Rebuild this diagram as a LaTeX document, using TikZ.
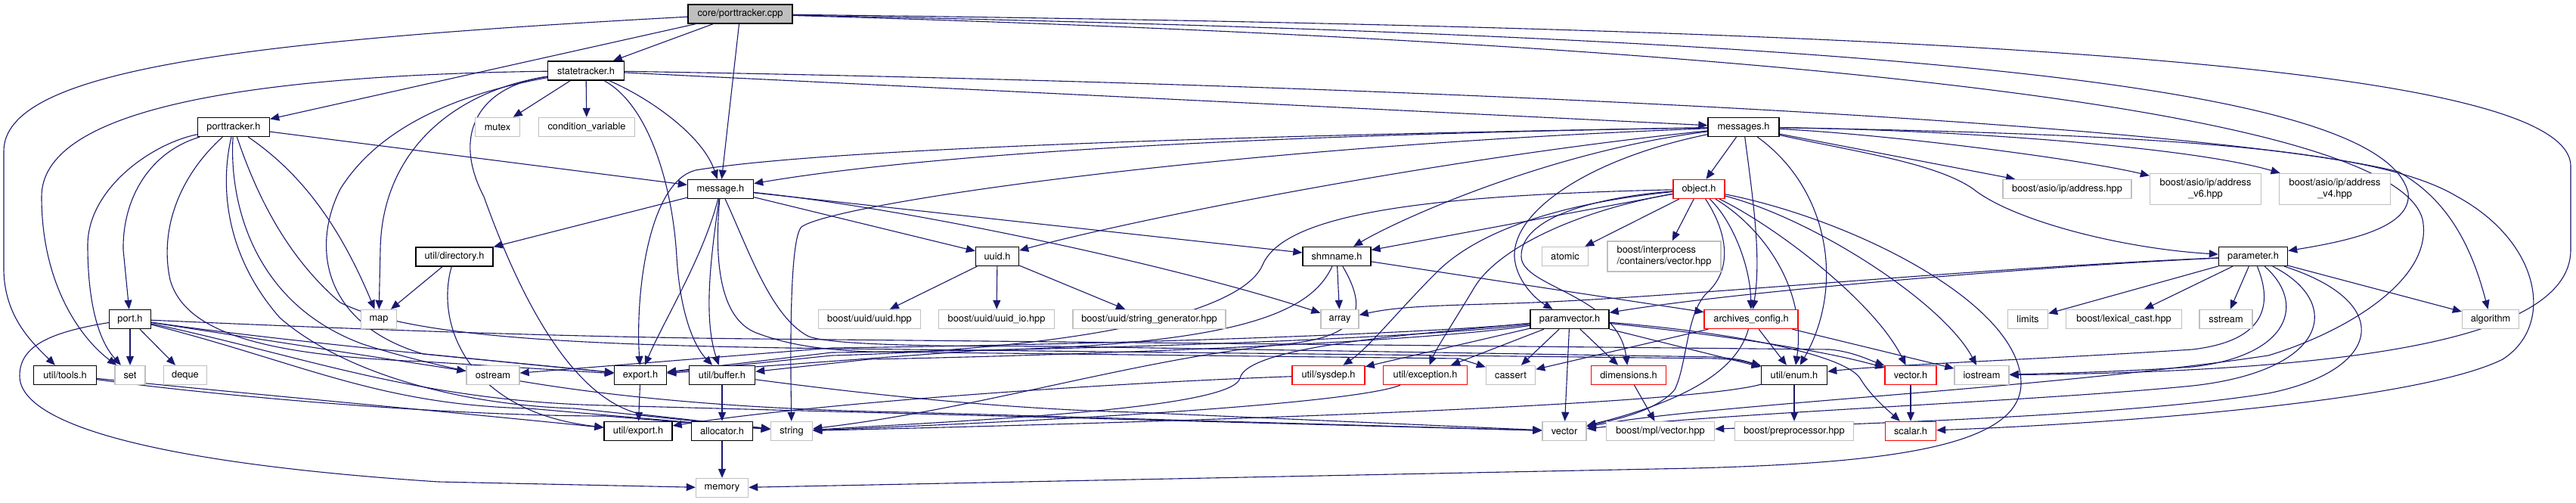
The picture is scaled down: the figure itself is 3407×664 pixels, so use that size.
\documentclass[tikz,border=0pt]{standalone}
\usepackage{fontspec}
\setmainfont{TeX Gyre Heros}
\usetikzlibrary{arrows.meta,backgrounds}
\definecolor{edgec}{HTML}{191970}
\definecolor{gry}{HTML}{BFBFBF}
\definecolor{redc}{HTML}{FF0000}
\newcommand{\nfs}{\fontsize{12.8pt}{15pt}\selectfont}
\begin{document}
\begin{tikzpicture}[x=1pt,y=-1pt,
  nbox/.style={draw=black,line width=1.4pt,fill=white,minimum height=25pt,inner sep=0pt,font=\nfs,text=black},
  sbox/.style={nbox,draw=gry},
  rbox/.style={nbox,draw=redc},
  ed/.style={draw=edgec,line width=1.1pt,-{Triangle[length=12pt,width=10pt]}}]
\useasboundingbox (0,0) rectangle (3407,664);
% row 1-3
\node[nbox,fill=gry,minimum width=138pt] (core) at (979,18.5) {core/porttracker.cpp};
\node[nbox,minimum width=101pt] (st) at (775,93.5) {statetracker.h};
\node[nbox,minimum width=95pt] (pt) at (309,168) {porttracker.h};
\node[sbox,minimum width=59pt] (mutex) at (658,168) {mutex};
\node[sbox,minimum width=127pt] (cv) at (776,168) {condition\_variable};
\node[nbox,minimum width=94pt] (msgs) at (2306,168) {messages.h};
% row 4
\node[nbox,minimum width=87pt] (msg) at (953,250) {message.h};
\node[rbox,minimum width=68pt] (obj) at (2247,250) {object.h};
\node[sbox,minimum width=170pt] (addr) at (2734,250) {boost/asio/ip/address.hpp};
\node[sbox,minimum width=147pt,minimum height=41pt,align=center] (av6) at (2917,250) {boost/asio/ip/address\\\_v6.hpp};
\node[sbox,minimum width=147pt,minimum height=41pt,align=center] (av4) at (3088,250) {boost/asio/ip/address\\\_v4.hpp};
% row 5
\node[nbox,minimum width=102pt] (dir) at (601,339.5) {util/directory.h};
\node[nbox,minimum width=57pt] (uuid) at (1319,339) {uuid.h};
\node[nbox,minimum width=90pt] (shm) at (1768,339) {shmname.h};
\node[sbox,minimum width=61pt] (atomic) at (2070,339) {atomic};
\node[sbox,minimum width=150pt,minimum height=40pt,align=left] (ipc) at (2201,339) {boost/interprocess\\/containers/vector.hpp};
\node[nbox,minimum width=91pt] (param) at (2980,339) {parameter.h};
% row 6
\node[nbox,minimum width=55pt] (port) at (172,422) {port.h};
\node[sbox,minimum width=47pt] (map) at (501,422) {map};
\node[sbox,minimum width=135pt] (uhpp) at (1150,422) {boost/uuid/uuid.hpp};
\node[sbox,minimum width=153pt] (uio) at (1318,422) {boost/uuid/uuid\_io.hpp};
\node[sbox,minimum width=202pt] (usg) at (1520,422) {boost/uuid/string\_generator.hpp};
\node[sbox,minimum width=50pt] (array) at (1772,422) {array};
\node[nbox,minimum width=104pt] (pv) at (2076,422) {paramvector.h};
\node[rbox,minimum width=124pt] (arch) at (2316,422) {archives\_config.h};
\node[sbox,minimum width=53pt] (limits) at (2682,422) {limits};
\node[sbox,minimum width=153pt] (lex) at (2809,422) {boost/lexical\_cast.hpp};
\node[sbox,minimum width=70pt] (sstream) at (2944,422) {sstream};
\node[sbox,minimum width=75pt] (algo) at (3294,422) {algorithm};
% row 7
\node[nbox,minimum width=83pt] (tools) at (86,496) {util/tools.h};
\node[sbox,minimum width=40pt] (set) at (172,496) {set};
\node[sbox,minimum width=57pt] (deque) at (245,496) {deque};
\node[sbox,minimum width=70pt] (ostream) at (652,496) {ostream};
\node[nbox,minimum width=69pt] (export) at (847,496) {export.h};
\node[nbox,minimum width=87pt] (buffer) at (955,496) {util/buffer.h};
\node[rbox,minimum width=96pt] (sysdep) at (1757,496) {util/sysdep.h};
\node[rbox,minimum width=111pt] (exc) at (1885,496) {util/exception.h};
\node[sbox,minimum width=65pt] (cassert) at (1998,496) {cassert};
\node[rbox,minimum width=99pt] (dim) at (2154,496) {dimensions.h};
\node[nbox,minimum width=87pt] (enum) at (2373,496) {util/enum.h};
\node[rbox,minimum width=68pt] (vech) at (2527,496) {vector.h};
\node[sbox,minimum width=72pt] (iostream) at (2621,496) {iostream};
% row 8
\node[nbox,minimum width=90pt] (uexport) at (844,570) {util/export.h};
\node[nbox,minimum width=81pt] (alloc) at (955,570) {allocator.h};
\node[sbox,minimum width=55pt] (string) at (1047,570) {string};
\node[sbox,minimum width=58pt] (vector) at (2069,570) {vector};
\node[sbox,minimum width=143pt] (mpl) at (2196,570) {boost/mpl/vector.hpp};
\node[sbox,minimum width=157pt] (preproc) at (2373,570) {boost/preprocessor.hpp};
\node[rbox,minimum width=67pt] (scalar) at (2527,570) {scalar.h};
% row 9
\node[sbox,minimum width=69pt] (memory) at (955,645) {memory};

\begin{pgfonlayer}{background}
\fill[white] (0,0) rectangle (3407,664);
% core
\draw[ed] (core) -- (st);
\draw[ed] (core) -- (pt);
\draw[ed] (core) -- (msg);
\draw[ed] (core) .. controls (300,55) and (5,95) .. (5,200) -- (5,355) .. controls (5,420) and (45,455) .. (tools);
\draw[ed] (core) .. controls (2600,38) and (3400,85) .. (3400,220) -- (3400,330) .. controls (3400,430) and (3200,490) .. (iostream);
\draw[ed] (core) .. controls (2500,50) and (3150,110) .. (3185,255) .. controls (3190,300) and (3110,318) .. (param);
\draw[ed] (core) .. controls (2500,62) and (3170,160) .. (3204,290) .. controls (3220,370) and (3100,440) .. (3000,470) .. controls (2700,515) and (2250,535) .. (vector);
% statetracker
\draw[ed] (st) -- (mutex);
\draw[ed] (st) -- (cv);
\draw[ed] (st) .. controls (860,130) and (930,180) .. (msg);
\draw[ed] (st) -- (msgs);
\draw[ed] (st) .. controls (300,100) and (55,150) .. (55,260) .. controls (55,380) and (110,450) .. (set);
\draw[ed] (st) .. controls (600,120) and (505,200) .. (503,330) -- (map);
\draw[ed] (st) .. controls (630,115) and (598,180) .. (640,260) .. controls (690,400) and (760,530) .. (850,548) -- (string);
\draw[ed] (st) .. controls (860,140) and (890,250) .. (895,340) .. controls (900,420) and (920,460) .. (buffer);
\draw[ed] (st) .. controls (600,125) and (500,170) .. (450,250) .. controls (410,330) and (430,430) .. (560,468) -- (export);
\draw[ed] (st) .. controls (1800,110) and (2900,160) .. (3172,227) .. controls (3240,265) and (3270,330) .. (algo);
% porttracker
\draw[ed] (pt) .. controls (200,190) and (116,250) .. (116,324) .. controls (116,400) and (130,450) .. (set);
\draw[ed] (pt) .. controls (200,200) and (162,260) .. (163,330) -- (port);
\draw[ed] (pt) .. controls (240,230) and (210,300) .. (225,370) .. controls (245,440) and (350,470) .. (560,478) -- (export);
\draw[ed] (pt) .. controls (290,250) and (300,340) .. (370,420) .. controls (450,490) and (600,535) .. (760,540) -- (string);
\draw[ed] (pt) .. controls (303,260) and (330,400) .. (480,455) .. controls (650,510) and (900,540) .. (1200,545) -- (vector);
\draw[ed] (pt) .. controls (340,260) and (380,340) .. (450,400) .. controls (550,450) and (800,458) .. (1200,462) -- (2270,474) .. controls (2300,476) .. (enum);
\draw[ed] (pt) .. controls (400,230) and (450,300) .. (map);
\draw[ed] (pt) -- (msg);
% port
\draw[ed] (port) -- (set);
\draw[ed] (port) -- (deque);
\draw[ed] (port) .. controls (60,440) and (26,460) .. (26,497) .. controls (26,560) and (200,612) .. (580,637) -- (memory);
\draw[ed] (port) -- (ostream);
\draw[ed] (port) .. controls (350,448) and (600,472) .. (export);
\draw[ed] (port) .. controls (400,480) and (500,535) .. (700,540) -- (string);
\draw[ed] (port) .. controls (400,470) and (550,530) .. (800,536) -- (vector);
\draw[ed] (port) .. controls (400,432) and (700,445) .. (1000,448) -- (2420,462) .. controls (2450,465) and (2470,475) .. (vech);
% util/tools.h, util/directory.h
\draw[ed] (tools) .. controls (300,518) and (600,545) .. (uexport);
\draw[ed] (tools) .. controls (300,525) and (600,550) .. (800,550) -- (string);
\draw[ed] (dir) -- (map);
\draw[ed] (dir) .. controls (575,430) and (620,545) .. (uexport);
% message.h
\draw[ed] (msg) -- (dir);
\draw[ed] (msg) .. controls (930,340) and (880,420) .. (export);
\draw[ed] (msg) .. controls (940,340) and (930,420) .. (buffer);
\draw[ed] (msg) .. controls (945,340) and (950,420) .. (1000,440) .. controls (1040,455) and (1080,462) .. (1150,465) -- (1930,474) -- (cassert);
\draw[ed] (msg) .. controls (990,330) and (1020,420) .. (1070,445) .. controls (1100,455) and (1200,458) .. (1400,458) -- (2270,472) .. controls (2300,475) .. (enum);
\draw[ed] (msg) -- (shm);
\draw[ed] (msg) -- (uuid);
\draw[ed] (msg) .. controls (1200,275) and (1550,350) .. (array);
% messages.h
\draw[ed] (msgs) .. controls (1700,178) and (1250,200) .. (msg);
\draw[ed] (msgs) .. controls (1700,178) and (1100,195) .. (920,225) .. controls (860,240) and (840,380) .. (export);
\draw[ed] (msgs) .. controls (1600,195) and (1100,270) .. (1060,300) .. controls (1045,315) and (1045,450) .. (string);
\draw[ed] (msgs) .. controls (1900,210) and (1500,290) .. (uuid);
\draw[ed] (msgs) .. controls (2050,200) and (1850,290) .. (shm);
\draw[ed] (msgs) -- (obj);
\draw[ed] (msgs) -- (addr);
\draw[ed] (msgs) .. controls (2500,178) and (2750,210) .. (av6);
\draw[ed] (msgs) .. controls (2600,172) and (2900,195) .. (av4);
\draw[ed] (msgs) .. controls (2450,200) and (2560,215) .. (2610,250) .. controls (2660,290) and (2800,328) .. (param);
\draw[ed] (msgs) .. controls (2318,260) and (2330,340) .. (arch);
\draw[ed] (msgs) .. controls (2420,250) and (2440,380) .. (enum);
\draw[ed] (msgs) .. controls (2100,210) and (2000,280) .. (2003,340) .. controls (2005,370) and (2030,395) .. (pv);
\draw[ed] (msgs) .. controls (2900,178) and (3150,200) .. (3250,260) .. controls (3360,320) and (3380,430) .. (3310,475) .. controls (3200,530) and (2800,560) .. (scalar);
% object.h
\draw[ed] (obj) -- (shm);
\draw[ed] (obj) -- (atomic);
\draw[ed] (obj) -- (ipc);
\draw[ed] (obj) .. controls (1900,258) and (1700,280) .. (1670,350) .. controls (1640,420) and (1400,462) .. (1100,470) -- (export);
\draw[ed] (obj) .. controls (2050,270) and (1950,310) .. (1900,360) .. controls (1850,410) and (1810,460) .. (sysdep);
\draw[ed] (obj) .. controls (2080,280) and (1980,330) .. (1950,380) .. controls (1920,430) and (1900,460) .. (exc);
\draw[ed] (obj) .. controls (2100,262) and (2010,290) .. (2012,340) .. controls (2014,380) and (2140,390) .. (dim);
\draw[ed] (obj) .. controls (2290,290) and (2315,350) .. (arch);
\draw[ed] (obj) .. controls (2330,300) and (2390,380) .. (enum);
\draw[ed] (obj) .. controls (2350,300) and (2480,400) .. (vech);
\draw[ed] (obj) .. controls (2400,290) and (2570,400) .. (iostream);
\draw[ed] (obj) .. controls (2450,290) and (2670,400) .. (2673,505) .. controls (2675,590) and (2500,612) .. (2240,619) -- (memory);
\draw[ed] (obj) .. controls (2280,300) and (2295,350) .. (2260,385) .. controls (2230,410) and (2232,480) .. (2215,515) .. controls (2190,545) and (2130,556) .. (vector);
% parameter.h
\draw[ed] (param) .. controls (2700,352) and (2300,385) .. (pv);
\draw[ed] (param) .. controls (2600,355) and (2200,395) .. (2000,401) .. controls (1900,404) and (1850,405) .. (array);
\draw[ed] (param) -- (limits);
\draw[ed] (param) -- (lex);
\draw[ed] (param) -- (sstream);
\draw[ed] (param) -- (algo);
\draw[ed] (param) .. controls (3005,400) and (3000,450) .. (2900,462) .. controls (2700,475) and (2500,482) .. (enum);
\draw[ed] (param) .. controls (3050,400) and (3030,470) .. (2900,485) .. controls (2800,492) and (2700,494) .. (iostream);
\draw[ed] (param) .. controls (3100,400) and (3080,490) .. (2900,510) .. controls (2700,530) and (2300,545) .. (vector);
\draw[ed] (param) .. controls (3170,400) and (3150,490) .. (3000,520) .. controls (2800,552) and (2400,562) .. (mpl);
% paramvector.h
\draw[ed] (pv) -- (sysdep);
\draw[ed] (pv) -- (exc);
\draw[ed] (pv) -- (cassert);
\draw[ed] (pv) -- (dim);
\draw[ed] (pv) -- (vector);
\draw[ed] (pv) -- (enum);
\draw[ed] (pv) .. controls (2250,440) and (2400,460) .. (vech);
\draw[ed] (pv) .. controls (2300,440) and (2440,470) .. (2460,500) .. controls (2475,525) and (2500,545) .. (scalar);
\draw[ed] (pv) .. controls (1900,440) and (1500,455) .. (1100,460) -- (ostream);
\draw[ed] (pv) .. controls (1900,445) and (1500,462) .. (1100,466) -- (export);
\draw[ed] (pv) .. controls (1900,450) and (1500,468) .. (1150,475) -- (buffer);
\draw[ed] (pv) .. controls (1900,440) and (1650,455) .. (1640,500) .. controls (1630,540) and (1300,555) .. (string);
% archives_config.h
\draw[ed] (arch) -- (cassert);
\draw[ed] (arch) -- (enum);
\draw[ed] (arch) .. controls (2300,480) and (2250,525) .. (vector);
\draw[ed] (arch) -- (iostream);
% shmname.h
\draw[ed] (shm) -- (array);
\draw[ed] (shm) -- (arch);
\draw[ed] (shm) .. controls (1735,410) and (1650,455) .. (1300,463) -- (export);
\draw[ed] (shm) .. controls (1810,410) and (1800,445) .. (1700,455) .. controls (1500,475) and (1300,540) .. (string);
% lower nodes
\draw[ed] (sysdep) .. controls (1500,505) and (1100,530) .. (uexport);
\draw[ed] (exc) .. controls (1800,530) and (1500,552) .. (string);
\draw[ed] (enum) .. controls (2250,530) and (1800,552) .. (string);
\draw[ed] (enum) -- (preproc);
\draw[ed] (dim) -- (mpl);
\draw[ed] (vech) -- (scalar);
\draw[ed] (export) -- (uexport);
\draw[ed] (buffer) -- (alloc);
\draw[ed] (buffer) .. controls (1100,515) and (1300,540) .. (1500,545) -- (vector);
\draw[ed] (alloc) -- (memory);
\draw[ed] (uuid) -- (uhpp);
\draw[ed] (uuid) -- (uio);
\draw[ed] (uuid) -- (usg);
\end{pgfonlayer}
\end{tikzpicture}
\end{document}
